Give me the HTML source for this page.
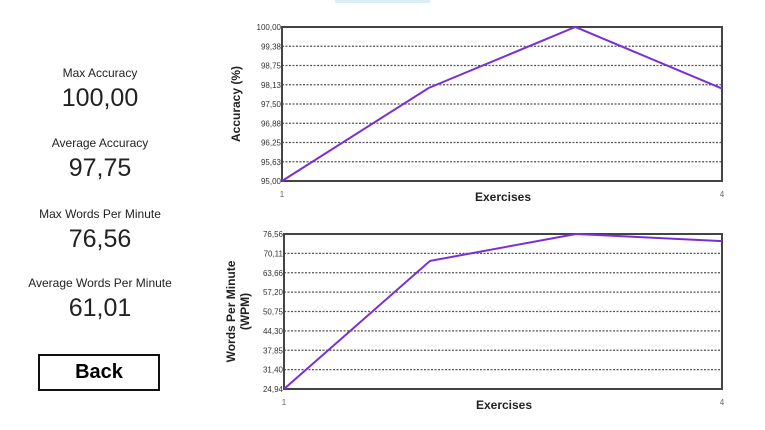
<!DOCTYPE html>
<html><head><meta charset="utf-8"><style>
body{margin:0;width:765px;height:430px;background:#fff;font-family:"Liberation Sans",sans-serif;position:relative;overflow:hidden}
.lbl{position:absolute;left:0;width:200px;text-align:center;color:#222}
.s{font-size:12px}.b{font-size:25px}
#back{position:absolute;left:38px;top:354px;width:122px;height:37px;border:2px solid #111;box-sizing:border-box;font-weight:bold;font-size:20px;text-align:center;line-height:33px;background:#fff}
svg{position:absolute;left:0;top:0}
</style></head><body>
<div style="position:absolute;left:335px;top:0;width:95px;height:3px;background:#dbeef7"></div>
<div class="lbl s" style="top:66px">Max Accuracy</div>
<div class="lbl b" style="top:84px">100,00</div>
<div class="lbl s" style="top:136px">Average Accuracy</div>
<div class="lbl b" style="top:154px">97,75</div>
<div class="lbl s" style="top:207px">Max Words Per Minute</div>
<div class="lbl b" style="top:225px">76,56</div>
<div class="lbl s" style="top:276px">Average Words Per Minute</div>
<div class="lbl b" style="top:294px">61,01</div>
<div id="back">Back</div>
<svg id="c" width="765" height="430"></svg>
<script>
const categories=[1,2,3,4];
const accValues=[95.00,98.02,100.00,98.00];
const accTicks=["100,00","99,38","98,75","98,13","97,50","96,88","96,25","95,63","95,00"];
const wpmValues=[24.94,67.6,76.56,74.2];
const wpmTicks=["76,56","70,11","63,66","57,20","50,75","44,30","37,85","31,40","24,94"];
const NS="http://www.w3.org/2000/svg",svg=document.getElementById('c');
function mk(t,a,p){const e=document.createElementNS(NS,t);for(const k in a)e.setAttribute(k,a[k]);(p||svg).appendChild(e);return e;}
function chart(name,x0,x1,y0,y1,vals,ticks,lines){
 const g=mk('g',{});
 
 
 const mn=parseFloat(ticks[ticks.length-1].replace(',','.')),mx=parseFloat(ticks[0].replace(',','.'));
 const X=i=>x0+(x1-x0)*(i)/(categories.length-1);
 const Y=v=>y1-(v-mn)/(mx-mn)*(y1-y0);
 ticks.forEach((t,i)=>{const y=y0+(y1-y0)*i/(ticks.length-1);
  if(i>0&&i<ticks.length-1){const l=mk('line',{x1:x0,x2:x1,y1:y,y2:y,stroke:'#555','stroke-width':1.2,'stroke-dasharray':'2,1.5'},g);}
  const tx=mk('text',{x:x0-1,y:y+3,'text-anchor':'end','font-size':8,fill:'#333'},g);tx.textContent=t;
  });
 const r=mk('rect',{x:x0,y:y0,width:x1-x0,height:y1-y0,fill:'none',stroke:'#444','stroke-width':2},g);
 
 const p=mk('polyline',{points:vals.map((v,i)=>X(i)+','+Y(v)).join(' '),fill:'none',stroke:'#7a2fd6','stroke-width':2},g);
 
 [0,categories.length-1].forEach(i=>{const t=mk('text',{x:X(i),y:y1+16,'text-anchor':'middle','font-size':8,fill:'#666'},g);t.textContent=categories[i];
  });
 const xt=mk('text',{x:(x0+x1)/2+1,y:y1+20,'text-anchor':'middle','font-size':12,'font-weight':'bold',fill:'#222'},g);xt.textContent='Exercises';
 
 const cy=(y0+y1)/2;
 lines.forEach((s,i)=>{const off=lines.length==1?0:(i==0?-7:7);const t=mk('text',{x:0,y:0,'text-anchor':'middle','font-size':12,'font-weight':'bold',fill:'#222',transform:`translate(${x0-46+off+4},${cy}) rotate(-90)`},g);t.textContent=s;
  });
}
chart('accuracy-chart',282,722,27,181,accValues,accTicks,['Accuracy (%)']);
chart('wpm-chart',284,722,234,389,wpmValues,wpmTicks,['Words Per Minute','(WPM)']);
</script>
</body></html>
